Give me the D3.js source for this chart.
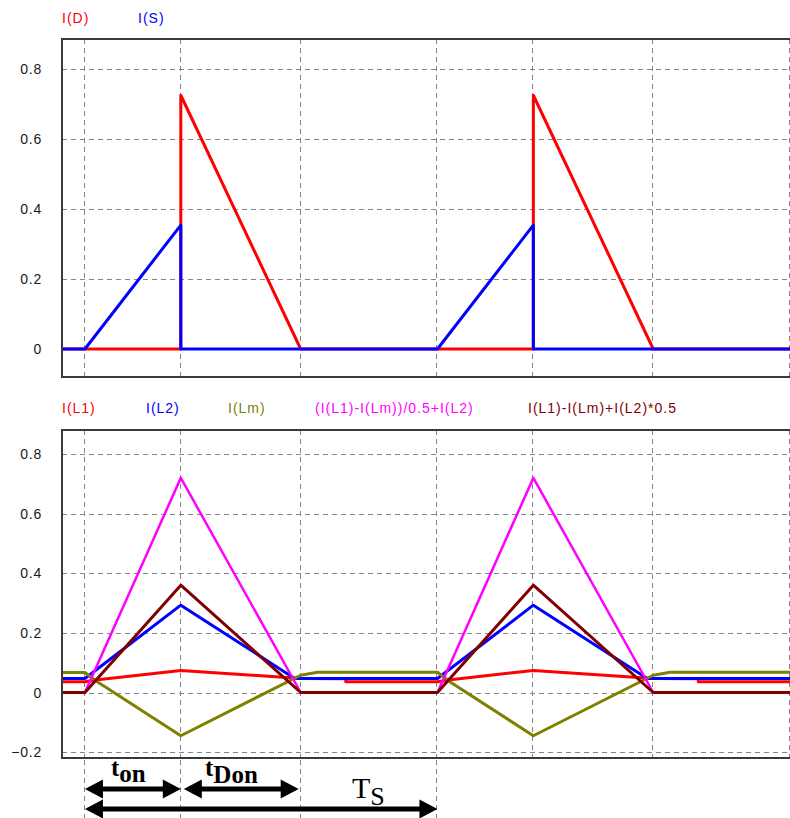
<!DOCTYPE html>
<html>
<head>
<meta charset="utf-8">
<script src="https://cdn.jsdelivr.net/npm/d3@7"></script>
<style>
  body { margin: 0; background: #fff; }
</style>
</head>
<body>
<div class="container"></div>
<script>
// time axis in us, one switching period Ts = 10
const gridTimes = [0, 2.72, 6.12, 10, 12.72, 16.12, 20];
const topTicks = [0, 0.2, 0.4, 0.6, 0.8];
const bottomTicks = [-0.2, 0, 0.2, 0.4, 0.6, 0.8];

const topNames = ["I(D)", "I(S)"];
const bottomNames = ["I(L1)", "I(L2)", "I(Lm)", "(I(L1)-I(Lm))/0.5+I(L2)", "I(L1)-I(Lm)+I(L2)*0.5"];

// [time, current] pairs
const iD = [[-0.65, 0], [2.72, 0], [2.72, 0.725], [6.12, 0], [12.72, 0], [12.72, 0.725], [16.12, 0], [20, 0]];
const iS = [[-0.65, 0], [0, 0], [2.72, 0.354], [2.72, 0], [10, 0], [12.72, 0.354], [12.72, 0], [20, 0]];

const iL1 = [[-0.65, 0.036], [0, 0.036], [0.3, 0.042], [2.72, 0.074], [6.12, 0.047], [7.4, 0.046], [7.4, 0.036],
  [10, 0.036], [10.3, 0.042], [12.72, 0.074], [16.12, 0.047], [17.4, 0.046], [17.4, 0.036], [20, 0.036]];
const iL2 = [[-0.65, 0.047], [0, 0.047], [2.72, 0.293], [5.95, 0.047], [10, 0.047], [12.72, 0.293], [15.95, 0.047], [20, 0.047]];
const iLm = [[-0.65, 0.067], [0, 0.067], [0.35, 0.036], [2.72, -0.145], [6.12, 0.058], [6.6, 0.068], [10, 0.068],
  [10.35, 0.036], [12.72, -0.145], [16.12, 0.058], [16.6, 0.068], [20, 0.068]];
const iMix1 = [[-0.65, 0], [0, 0], [2.72, 0.72], [6.12, 0], [10, 0], [12.72, 0.72], [16.12, 0], [20, 0]];
const iMix2 = [[-0.65, 0], [0, 0], [2.72, 0.36], [6.12, 0], [10, 0], [12.72, 0.36], [16.12, 0], [20, 0]];

main();

function main() {
  const container = document.querySelector(".container");
  const width = 790;
  const height = 818;
  const left = 62;

  const svg = d3
    .create("svg")
    .attr("width", width)
    .attr("height", height)
    .style("display", "block")
    .style("background", "#fff");

  const x = d3.scaleLinear().domain([-0.65, 20]).range([left, width]);

  const panels = [
    {
      top: 39, bottom: 377, y: d3.scaleLinear().domain([-0.08, 0.8857]).range([377, 39]),
      ticks: topTicks, names: topNames, legendX: [62, 138], legendY: 23,
      series: [[iD, "#ff0000"], [iS, "#0000ff"]],
    },
    {
      top: 430, bottom: 758, y: d3.scaleLinear().domain([-0.2197, 0.8806]).range([758, 430]),
      ticks: bottomTicks, names: bottomNames, legendX: [62, 146, 228, 315, 528], legendY: 413,
      series: [[iL1, "#ff0000"], [iL2, "#0000ff"], [iLm, "#808000"], [iMix1, "#ff00ff"], [iMix2, "#800000"]],
    },
  ];

  const defs = svg.append("defs");

  panels.forEach((p, pi) => {
    const g = svg.append("g");

    defs.append("clipPath")
      .attr("id", "clip" + pi)
      .append("rect")
      .attr("x", left)
      .attr("y", p.top)
      .attr("width", width - left)
      .attr("height", p.bottom - p.top);

    // grid
    g.append("g")
      .selectAll("line")
      .data(p.ticks)
      .join("line")
      .attr("x1", left)
      .attr("x2", width)
      .attr("y1", (d) => Math.round(p.y(d)) + 0.5)
      .attr("y2", (d) => Math.round(p.y(d)) + 0.5)
      .attr("stroke", "#858585")
      .attr("stroke-dasharray", "5,4");

    g.append("g")
      .selectAll("line")
      .data(gridTimes)
      .join("line")
      .attr("x1", (d) => Math.round(x(d)) - 0.5)
      .attr("x2", (d) => Math.round(x(d)) - 0.5)
      .attr("y1", p.top)
      .attr("y2", p.bottom)
      .attr("stroke", "#858585")
      .attr("stroke-dasharray", "5,4");

    // tick labels
    g.append("g")
      .selectAll("text")
      .data(p.ticks)
      .join("text")
      .attr("x", 42)
      .attr("y", (d) => p.y(d))
      .attr("dy", "0.36em")
      .attr("text-anchor", "end")
      .style("font-family", "'Liberation Sans', Arial, sans-serif")
      .style("font-size", "14px")
      .style("letter-spacing", "0.8px")
      .attr("fill", "#1a1a1a")
      .text((d) => (d === 0 ? "0" : d3.format(".1f")(d)));

    // legend
    g.append("g")
      .selectAll("text")
      .data(p.names)
      .join("text")
      .attr("x", (d, i) => p.legendX[i])
      .attr("y", p.legendY)
      .style("font-family", "'Liberation Sans', Arial, sans-serif")
      .style("font-size", "14px")
      .style("letter-spacing", "1px")
      .attr("fill", (d, i) => p.series[i][1])
      .text((d) => d);

    // traces
    const line = d3.line().x((d) => x(d[0])).y((d) => p.y(d[1]));
    g.append("g")
      .attr("clip-path", `url(#clip${pi})`)
      .selectAll("path")
      .data(p.series)
      .join("path")
      .attr("d", (d) => line(d[0]))
      .attr("fill", "none")
      .attr("stroke", (d) => d[1])
      .attr("stroke-width", (d) => (d[1] === "#ff00ff" ? 2.5 : 3))
      .attr("stroke-linejoin", "round");

    // frame: left, top, bottom
    g.append("path")
      .attr("d", `M${width},${p.top}H${left}V${p.bottom}H${width}`)
      .attr("fill", "none")
      .attr("stroke", "#3a3a3a")
      .attr("stroke-width", 2);
  });

  // timing annotation below the lower panel
  const ann = svg.append("g");
  const yBot = panels[1].bottom;

  ann.selectAll("line")
    .data(gridTimes.slice(0, 4))
    .join("line")
    .attr("x1", (d) => Math.round(x(d)) - 0.5)
    .attr("x2", (d) => Math.round(x(d)) - 0.5)
    .attr("y1", yBot + 2)
    .attr("y2", height)
    .attr("stroke", "#858585")
    .attr("stroke-dasharray", "5,4");

  function arrow(x1, x2, y, hl, hh) {
    ann.append("line")
      .attr("x1", x1 + hl - 2).attr("x2", x2 - hl + 2)
      .attr("y1", y).attr("y2", y)
      .attr("stroke", "#000").attr("stroke-width", 5);
    ann.append("path")
      .attr("d", `M${x1},${y}L${x1 + hl},${y - hh}L${x1 + hl},${y + hh}Z`)
      .attr("fill", "#000");
    ann.append("path")
      .attr("d", `M${x2},${y}L${x2 - hl},${y - hh}L${x2 - hl},${y + hh}Z`)
      .attr("fill", "#000");
  }

  arrow(x(0), x(2.72), 789, 18, 9.5);
  arrow(x(2.72) + 3, x(6.12) - 2, 789, 18, 9.5);
  arrow(x(0), x(10), 809, 18, 9.5);

  const serif = "'Liberation Serif', 'Times New Roman', serif";

  const ton = ann.append("text")
    .attr("x", 111).attr("y", 776)
    .style("font-family", serif).style("font-weight", "bold").style("font-size", "25px");
  ton.append("tspan").text("t");
  ton.append("tspan").attr("dy", 6).text("on");

  const tdon = ann.append("text")
    .attr("x", 205).attr("y", 776)
    .style("font-family", serif).style("font-weight", "bold").style("font-size", "25px");
  tdon.append("tspan").text("t");
  tdon.append("tspan").attr("dy", 7).text("Don");

  const ts = ann.append("text")
    .attr("x", 352).attr("y", 798)
    .style("font-family", serif);
  ts.append("tspan").style("font-size", "30px").text("T");
  ts.append("tspan").attr("dy", 7).style("font-size", "26px").text("S");

  container.append(svg.node());
}
</script>
</body>
</html>
